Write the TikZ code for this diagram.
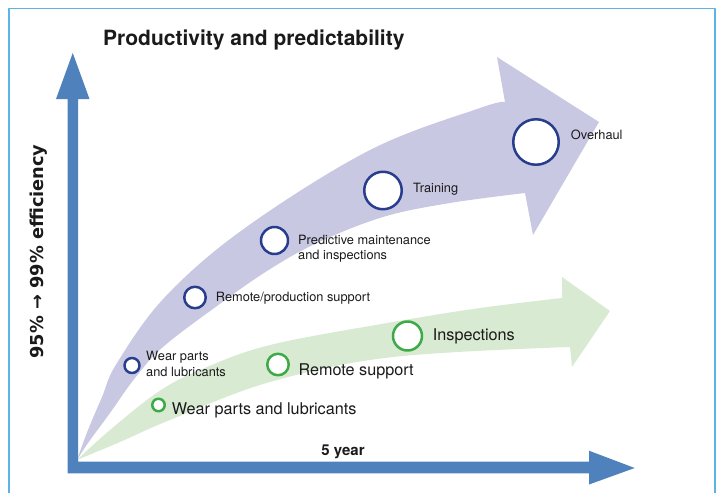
\documentclass[tikz,border=0pt]{standalone}
\usepackage{fontspec}
\setmainfont{TeX Gyre Heros}
\newfontfamily\axisfont{DejaVu Sans}
\usetikzlibrary{arrows.meta,positioning}
\definecolor{axisblue}{HTML}{4F81BD}
\definecolor{framecol}{HTML}{5BB4E5}
\definecolor{lilac}{HTML}{C9C8E2}
\definecolor{mint}{HTML}{D9EAD3}
\definecolor{ringblue}{HTML}{283D8E}
\definecolor{ringgreen}{HTML}{3DAA47}
\definecolor{txt}{HTML}{1A1A1A}

\begin{document}
\begin{tikzpicture}[x=1pt,y=-1pt,line join=round,
    bluering/.style={circle,draw=ringblue,fill=white,line width=2.5pt,inner sep=0pt},
    greenring/.style={circle,draw=ringgreen,fill=white,line width=2.5pt,inner sep=0pt},
    smalltext/.style={anchor=base west,text=txt,inner sep=0pt,align=left,
        font=\fontsize{12.8}{15.5}\selectfont},
    bigtext/.style={anchor=base west,text=txt,inner sep=0pt,
        font=\fontsize{16.2}{19}\selectfont}]
    \useasboundingbox (0,0) rectangle (716,493);
    % frame
    \draw [framecol,line width=1.3pt] (9,493) -- (9,8.5) -- (715,8.5) -- (715,493);
    \coordinate (O) at (77,460);
    % purple arrow
    \fill [lilac] plot [smooth,tension=0.6] coordinates {(O) (88,430) (102,397) (117,363) (165,297) (245,228) (370,150) (480,108) (505,102)}
        -- (497,57) -- (599,122) -- (533,235) --
        plot [smooth,tension=0.6] coordinates {(525,193) (450,203) (383,217) (317,243) (267,271) (217,306) (163,347) (135,378) (110,413) (88,443) (O)} -- cycle;
    % green arrow
    \fill [mint] plot [smooth,tension=0.6] coordinates {(O) (110,430) (158,392) (200,370) (270,345) (393,322) (480,308) (562,298)}
        -- (562,277) -- (610,311) -- (572,367) --
        plot [smooth,tension=0.6] coordinates {(570,347) (393,357) (270,382) (170,420) (120,442) (O)} -- cycle;
    % axes
    \fill [axisblue] (67.5,473.3) -- (67.5,99) -- (56,99) -- (72.75,53) -- (89.5,99) -- (78,99)
        -- (78,461.7) -- (589,461.7) -- (589,450.7) -- (634.7,468) -- (589,484.5) -- (589,473.3) -- cycle;
    \node [anchor=base west,text=txt,inner sep=0pt,font=\fontsize{21}{25}\selectfont\bfseries] (title) at (103,45) {Productivity and predictability};
    \node [rotate=90,text=txt,inner sep=0pt,font=\axisfont\fontsize{17.8}{20}\selectfont\bfseries] (ylab) at (39,251.5) {95\% → 99\% efficiency};
    \node [anchor=base,text=txt,inner sep=0pt,font=\fontsize{15}{18}\selectfont\bfseries] (xlab) at (343,455) {5 year};
    % blue steps
    \node [bluering,minimum size=45.5pt] (overhaul) at (536,142) {};
    \node [bluering,minimum size=37.5pt] (training) at (383,190.5) {};
    \node [bluering,minimum size=27pt] (predictive) at (274.5,240.5) {};
    \node [bluering,minimum size=21.5pt] (remoteprod) at (195,297.5) {};
    \node [bluering,minimum size=15pt] (wearblue) at (132,365.5) {};
    \node [smalltext] (overhaultxt) at (570.7,139) {Overhaul};
    \node [smalltext] (trainingtxt) at (413,192) {Training};
    \node [smalltext] (predictivetxt) at (298,259.5) {Predictive maintenance\\and inspections};
    \node [smalltext] (remoteprodtxt) at (215.7,301.7) {Remote/production support};
    \node [smalltext] (wearbluetxt) at (146,376) {Wear parts\\and lubricants};
    % green steps
    \node [greenring,minimum size=29pt] (inspections) at (407.5,336) {};
    \node [greenring,minimum size=21.5pt] (remotesup) at (278,364.5) {};
    \node [greenring,minimum size=12.5pt] (weargreen) at (158.5,405) {};
    \node [bigtext] (inspectionstxt) at (432.7,340) {Inspections};
    \node [bigtext] (remotesuptxt) at (298.3,375) {Remote support};
    \node [bigtext] (weargreentxt) at (171.7,414) {Wear parts and lubricants};
\end{tikzpicture}
\end{document}
